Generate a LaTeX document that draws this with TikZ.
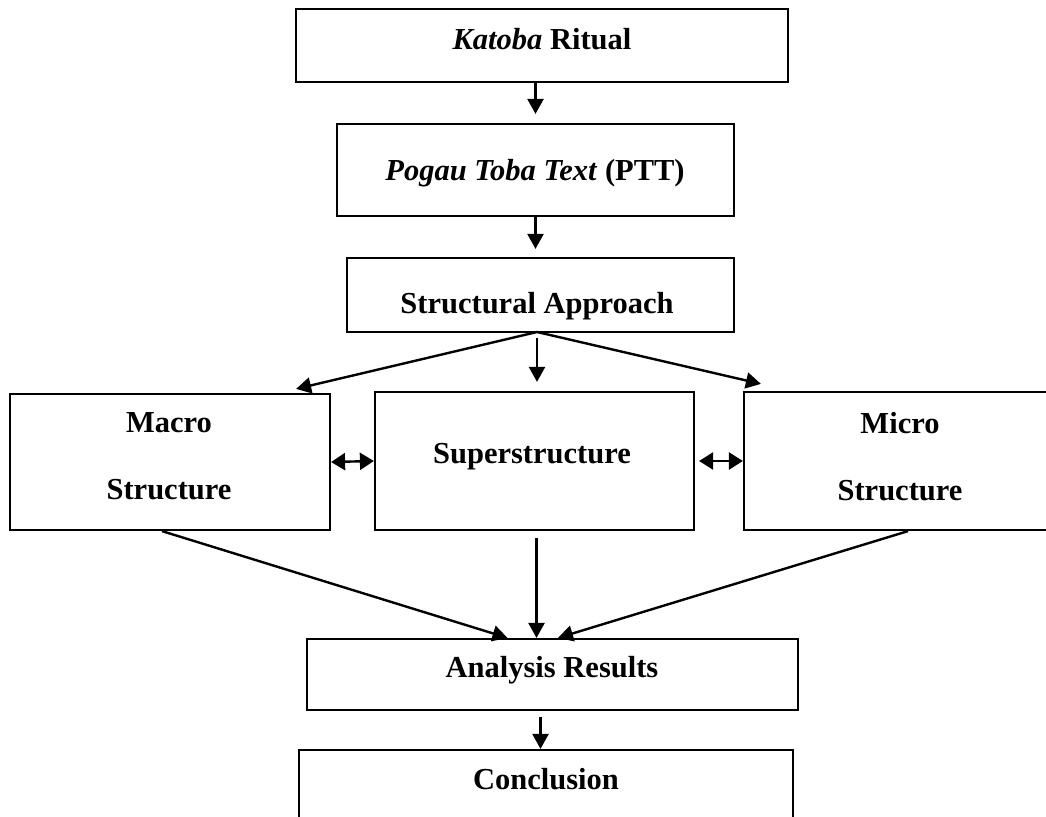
\documentclass[tikz,border=0pt]{standalone}
\usepackage{fontspec}
\setmainfont{Liberation Serif}
\usetikzlibrary{arrows.meta}

\begin{document}
\begin{tikzpicture}[x=1pt,y=-1pt,
		box/.style={draw, line width=2.2pt, inner sep=0pt},
		lbl/.style={font=\fontsize{30.5}{67}\selectfont\bfseries, inner sep=0pt, align=center},
		arr/.style={-{Triangle[length=15pt,width=16pt]}, line width=2.4pt},
		dbl/.style={{Triangle[length=14pt,width=17pt]}-{Triangle[length=14pt,width=17pt]}, line width=2.4pt}]
		\useasboundingbox (0,0) rectangle (1046,816);
		\node[box, minimum width=492pt, minimum height=73pt] (ritual) at (542,45.5) {};
		\node[lbl, anchor=base] (ritualtxt) at (542,50) {\textit{Katoba} Ritual};
		\node[box, minimum width=397pt, minimum height=92pt] (ptt) at (535.5,170) {};
		\node[lbl, anchor=base] (ptttxt) at (535,180) {\textit{Pogau Toba Text} (PTT)};
		\node[box, minimum width=387pt, minimum height=74pt] (approach) at (540.5,295) {};
		\node[lbl, anchor=base] (approachtxt) at (537,313) {Structural Approach};
		\node[box, minimum width=320pt, minimum height=136pt] (macro) at (170,462) {};
		\node[lbl, anchor=north] (macrotxt) at (169,412) {Macro\\Structure};
		\node[box, minimum width=319pt, minimum height=138pt] (super) at (534.5,461) {};
		\node[lbl, anchor=base] (supertxt) at (532,463) {Superstructure};
		\node[box, minimum width=313pt, minimum height=138pt] (micro) at (900.5,461) {};
		\node[lbl, anchor=north] (microtxt) at (900,412) {Micro\\Structure};
		\node[box, minimum width=491pt, minimum height=71pt] (analysis) at (552.5,674.5) {};
		\node[lbl, anchor=base] (analysistxt) at (552,677) {Analysis Results};
		\node[box, minimum width=494pt, minimum height=80pt] (conclusion) at (546,790) {};
		\node[lbl, anchor=base] (conclusiontxt) at (546,789) {Conclusion};
		\coordinate (fan) at (537,332);

		\draw[arr, shorten >=9pt] (ritual.south -| ptt.north) to (ptt.north);
		\draw[arr, shorten >=8pt] (ptt.south) to (ptt.south |- approach.north);
		\draw[arr] (fan) to ([xshift=-35pt,yshift=4pt]macro.north east);
		\draw[arr, shorten <=6pt, shorten >=9pt] (fan) to (fan |- super.north);
		\draw[arr] (fan) to ([xshift=18pt,yshift=7pt]micro.north west);
		\draw[dbl] (macro.east) to (super.west);
		\draw[dbl, shorten <=4pt] (super.east) to (micro.west |- super.east);
		\draw[arr] ([xshift=-8pt]macro.south) to ([xshift=-45pt]analysis.north);
		\draw[arr, shorten <=7pt] ([xshift=2pt]super.south) to ([xshift=2pt]super.south |- analysis.north);
		\draw[arr] ([xshift=7.5pt]micro.south) to ([xshift=5.5pt]analysis.north);
		\draw[arr, shorten <=6pt] ([xshift=-12pt]analysis.south) to ([xshift=-12pt]analysis.south |- conclusion.north);

		\end{tikzpicture}
\end{document}
